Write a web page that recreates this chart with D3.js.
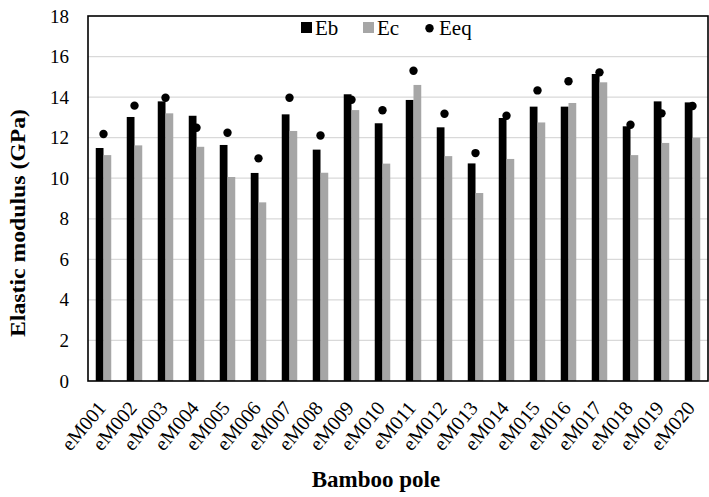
<!DOCTYPE html>
<html>
<head>
<meta charset="utf-8">
<script src="https://cdn.jsdelivr.net/npm/d3@7"></script>
<style>
  html, body { margin: 0; padding: 0; background: #fff; }
  svg text { font-family: "Liberation Serif", "Times New Roman", serif; fill: #000; }
</style>
</head>
<body>
<svg id="chart" width="709" height="497"></svg>
<script>
// Bamboo pole identifiers
const poles = ["eM001","eM002","eM003","eM004","eM005","eM006","eM007","eM008","eM009","eM010",
               "eM011","eM012","eM013","eM014","eM015","eM016","eM017","eM018","eM019","eM020"];
// Elastic modulus values (GPa)
const Eb  = [11.49,13.02,13.79,13.08,11.64,10.26,13.15,11.41,14.14,12.71,
             13.86,12.51,10.73,12.97,13.53,13.53,15.14,12.56,13.79,13.74];
const Ec  = [11.14,11.62,13.20,11.55,10.06, 8.81,12.33,10.27,13.36,10.72,
             14.60,11.09, 9.27,10.95,12.75,13.71,14.73,11.14,11.74,12.00];
const Eeq = [12.18,13.58,13.97,12.49,12.24,10.98,13.97,12.11,13.87,13.35,
             15.30,13.18,11.24,13.08,14.33,14.78,15.22,12.64,13.20,13.56];
const yTicks = [0,2,4,6,8,10,12,14,16,18];
const barSeries = ["Eb","Ec"];
const barColors = {Eb: "#000000", Ec: "#a6a6a6"};

const SERIF = '"Liberation Serif", "Times New Roman", serif';
const svg = d3.select("#chart");
const m = {left: 88, right: 1, top: 16, bottom: 116};
const W = 709 - m.left - m.right;
const H = 497 - m.top - m.bottom;
const g = svg.append("g").attr("transform", `translate(${m.left},${m.top})`);

const x = d3.scaleBand().domain(poles).range([0, W]).padding(0);
const x1 = d3.scaleBand().domain(barSeries)
  .range([x.bandwidth() * 0.25, x.bandwidth() * 0.75]).padding(0);
const y = d3.scaleLinear().domain([0, 18]).range([H, 0]);

// horizontal gridlines
g.append("g").selectAll("line").data(yTicks.filter(t => t > 0 && t < 18)).join("line")
  .attr("x1", 0).attr("x2", W)
  .attr("y1", d => y(d)).attr("y2", d => y(d))
  .attr("stroke", "#d9d9d9").attr("stroke-width", 1.3);

// bars
const rows = poles.map((p, i) => ({p, Eb: Eb[i], Ec: Ec[i], Eeq: Eeq[i]}));
const grp = g.append("g").selectAll("g").data(rows).join("g")
  .attr("transform", d => `translate(${x(d.p)},0)`);
grp.selectAll("rect").data(d => barSeries.map(k => ({k, v: d[k]}))).join("rect")
  .attr("x", d => x1(d.k)).attr("width", x1.bandwidth())
  .attr("y", d => y(d.v)).attr("height", d => y(0) - y(d.v))
  .attr("fill", d => barColors[d.k]);

// Eeq markers
g.append("g").selectAll("circle").data(rows).join("circle")
  .attr("cx", d => x(d.p) + x.bandwidth() / 2)
  .attr("cy", d => y(d.Eeq)).attr("r", 4.2).attr("fill", "#000");

// plot frame
g.append("rect").attr("x", 0).attr("y", 0).attr("width", W).attr("height", H)
  .attr("fill", "none").attr("stroke", "#000").attr("stroke-width", 1.6);

// y axis labels
const yAxis = d3.axisLeft(y).tickValues(yTicks).tickSize(0).tickPadding(19);
const ya = g.append("g").call(yAxis)
  .attr("font-family", SERIF).attr("font-size", 19);
ya.select(".domain").remove();
ya.selectAll("text").style("font-family", SERIF);

// x axis labels, slanted
const xAxis = d3.axisBottom(x).tickSize(0);
const xa = g.append("g").attr("transform", `translate(0,${H})`).call(xAxis)
  .attr("font-family", SERIF).attr("font-size", 20);
xa.select(".domain").remove();
xa.selectAll("text")
  .style("font-family", SERIF)
  .attr("text-anchor", "end").attr("dy", 0).attr("y", 0)
  .attr("transform", "translate(3.5,27.5) rotate(-50)");

// axis titles
svg.append("text").attr("transform", "translate(25,223) rotate(-90)")
  .attr("text-anchor", "middle").style("font-size", "21px").style("font-weight", "bold")
  .attr("textLength", 228).attr("lengthAdjust", "spacingAndGlyphs")
  .text("Elastic modulus (GPa)");
svg.append("text").attr("x", 376).attr("y", 487)
  .attr("text-anchor", "middle").style("font-size", "23px").style("font-weight", "bold")
  .text("Bamboo pole");

// legend
const leg = svg.append("g");
leg.append("rect").attr("x", 301).attr("y", 22).attr("width", 11).attr("height", 11).attr("fill", barColors.Eb);
leg.append("text").attr("x", 315).attr("y", 35).style("font-size", "21px").text("Eb");
leg.append("rect").attr("x", 363).attr("y", 22).attr("width", 11).attr("height", 11).attr("fill", barColors.Ec);
leg.append("text").attr("x", 377).attr("y", 35).style("font-size", "21px").text("Ec");
leg.append("circle").attr("cx", 429.5).attr("cy", 28.3).attr("r", 4.2).attr("fill", "#000");
leg.append("text").attr("x", 439).attr("y", 35).style("font-size", "21px").text("Eeq");
</script>
</body>
</html>
